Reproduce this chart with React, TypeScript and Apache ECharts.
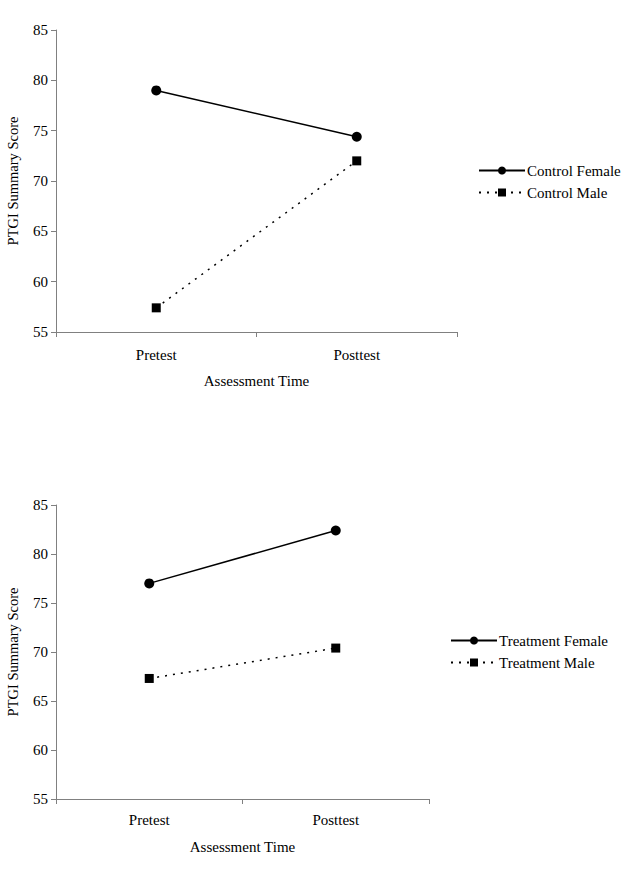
import React, { useEffect, useRef } from "react";
import * as echarts from "echarts";

const categories = ["Pretest", "Posttest"];
const controlFemale = [79.0, 74.4];
const controlMale = [57.4, 72.0];
const treatmentFemale = [77.0, 82.4];
const treatmentMale = [67.3, 70.4];
const yMin = 55;
const yMax = 85;
const yStep = 5;

const FONT = "'Liberation Serif', 'Times New Roman', serif";
const FONT_SIZE = 15;
const AXIS_GREY = "#808080";

function xAxisFor(gridIndex: number, labelMargin: number, nameGap: number) {
  return {
    type: "category",
    gridIndex,
    data: categories,
    boundaryGap: true,
    name: "Assessment Time",
    nameLocation: "middle",
    nameGap,
    nameTextStyle: { fontFamily: FONT, fontSize: FONT_SIZE, color: "#000" },
    axisLine: { lineStyle: { color: AXIS_GREY, width: 1 } },
    axisTick: { show: true, length: 5, lineStyle: { color: AXIS_GREY } },
    axisLabel: { fontFamily: FONT, fontSize: FONT_SIZE, color: "#000", margin: labelMargin },
    splitLine: { show: false },
  };
}

function yAxisFor(gridIndex: number) {
  return {
    type: "value",
    gridIndex,
    min: yMin,
    max: yMax,
    interval: yStep,
    name: "PTGI Summary Score",
    nameLocation: "middle",
    nameRotate: 90,
    nameGap: 36,
    nameTextStyle: { fontFamily: FONT, fontSize: 14.5, color: "#000" },
    axisLine: { show: true, lineStyle: { color: AXIS_GREY, width: 1 } },
    axisTick: { show: true, length: 5, lineStyle: { color: AXIS_GREY } },
    axisLabel: { fontFamily: FONT, fontSize: FONT_SIZE, color: "#000", margin: 8 },
    splitLine: { show: false },
  };
}

function lineSeries(name: string, data: number[], idx: number, dotted: boolean) {
  return {
    name,
    type: "line",
    xAxisIndex: idx,
    yAxisIndex: idx,
    data,
    symbol: dotted ? "rect" : "circle",
    symbolSize: dotted ? 9 : 10,
    itemStyle: { color: "#000" },
    lineStyle: { color: "#000", width: 1.5, type: dotted ? [2, 6] : "solid" },
  };
}

const legendText = { fontFamily: FONT, fontSize: FONT_SIZE, color: "#000", padding: [0, 0, 0, -3] };

export default function App() {
  const ref = useRef<HTMLDivElement>(null);

  useEffect(() => {
    document.body.style.margin = "0";
    if (!ref.current) return;
    const chart = echarts.init(ref.current, undefined, { renderer: "svg" });
    chart.setOption({
      animation: false,
      backgroundColor: "#fff",
      grid: [
        { left: 56, top: 30, width: 401, height: 302, outerBoundsMode: "none", containLabel: false },
        { left: 56, top: 505, width: 373, height: 294, outerBoundsMode: "none", containLabel: false },
      ],
      xAxis: [xAxisFor(0, 15, 41), xAxisFor(1, 13, 40)],
      yAxis: [yAxisFor(0), yAxisFor(1)],
      legend: [
        {
          data: ["Control Female", "Control Male"],
          orient: "vertical",
          left: 473,
          top: 158,
          itemWidth: 46,
          itemHeight: 10,
          itemGap: 7,
          textStyle: legendText,
        },
        {
          data: ["Treatment Female", "Treatment Male"],
          orient: "vertical",
          left: 445,
          top: 628,
          itemWidth: 46,
          itemHeight: 10,
          itemGap: 7,
          textStyle: legendText,
        },
      ],
      series: [
        lineSeries("Control Female", controlFemale, 0, false),
        lineSeries("Control Male", controlMale, 0, true),
        lineSeries("Treatment Female", treatmentFemale, 1, false),
        lineSeries("Treatment Male", treatmentMale, 1, true),
      ],
    });
    return () => chart.dispose();
  }, []);

  return <div ref={ref} style={{ width: 629, height: 884 }} />;
}
